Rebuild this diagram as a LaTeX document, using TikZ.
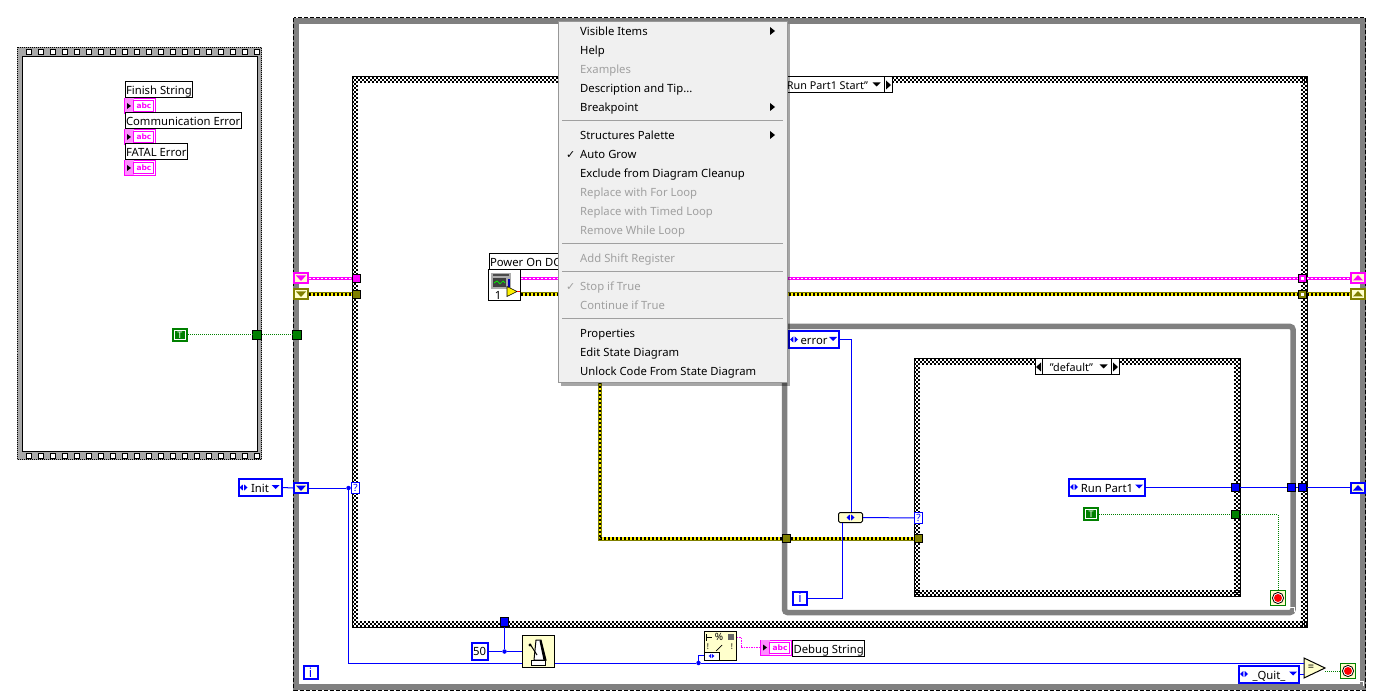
\documentclass[tikz,border=0pt]{standalone}
\usepackage{fontspec}
\setmainfont{Noto Sans}
\newfontfamily\checkfont{DejaVu Sans}
\definecolor{lvblue}{RGB}{0,0,255}
\definecolor{lvpink}{RGB}{255,0,255}
\definecolor{lvpale}{RGB}{255,140,255}
\definecolor{lvolive}{RGB}{128,128,0}
\definecolor{lvgreen}{RGB}{0,128,0}
\definecolor{lvcream}{RGB}{255,255,204}
\definecolor{lvband}{RGB}{128,128,128}
\definecolor{lvfilm}{RGB}{168,168,168}
\definecolor{menufill}{RGB}{240,240,240}
\definecolor{menuedge}{RGB}{151,151,151}
\definecolor{menuoff}{RGB}{160,160,160}
\tikzset{
  every node/.style={inner sep=0pt,font=\fontsize{11.3}{13}\selectfont},
  labelbox/.style={draw=black,line width=1pt,fill=white,minimum height=16pt,inner xsep=1pt,text height=10pt,text depth=0pt},
  tunnel/.style={draw=black,line width=1pt,minimum size=8.5pt},
  enumbox/.style={draw=lvblue,line width=2pt,fill=white,minimum height=17pt,text height=10pt,text depth=0pt},
  numbox/.style={draw=lvblue,line width=2pt,fill=white,minimum width=14pt,minimum height=13pt,text=lvblue,font=\fontsize{13}{14}\selectfont\bfseries},
  selbox/.style={draw=black,line width=1pt,fill=white,minimum height=16pt,text height=10pt,text depth=0pt,font=\fontsize{10.8}{13}\selectfont},
  regbox/.style={line width=2pt,fill=lvcream,minimum width=14pt,minimum height=10pt},
  truebox/.style={fill=lvgreen,minimum width=16pt,minimum height=14pt,text=white,font=\fontsize{9}{10}\selectfont\bfseries},
  stopbox/.style={draw=lvgreen,line width=1pt,fill=lvcream,minimum size=15.5pt},
  abcbox/.style={draw=lvpink,line width=1pt,fill=white,minimum width=31pt,minimum height=15pt,text=lvpink,font=\fontsize{7.5}{8}\selectfont\checkfont\bfseries},
  joint/.style={circle,fill=lvblue,minimum size=4.5pt},
  querybox/.style={draw=lvblue,line width=1pt,fill=white,minimum width=7.5pt,minimum height=11pt,text=lvblue,font=\fontsize{10}{11}\selectfont},
  bluewire/.style={draw=lvblue,line width=1pt},
  greenwire/.style={draw=lvgreen,line width=1pt,dash pattern=on 1pt off 1pt},
  pinkwire/.style={draw=lvpink,line width=3pt,postaction={draw=white,line width=1pt,dash pattern=on 2pt off 2pt}},
  olivewire/.style={draw=lvolive,line width=4pt,postaction={draw=yellow,line width=2.4pt},postaction={draw=black,line width=2.4pt,dash pattern=on 2pt off 2pt}},
  checkrow/.style={line width=2pt,dash pattern=on 2pt off 2pt},
  menuitem/.style={anchor=west,font=\fontsize{11.3}{13}\selectfont,text height=10pt,text depth=0pt},
  lrmark/.pic={\fill (-4,0) -- (-0.7,-3) -- (-0.7,3) -- cycle; \fill (4,0) -- (0.7,-3) -- (0.7,3) -- cycle;},
}
\newcommand{\tipdots}{.{}.{}.}
\newcommand{\checkerframe}[4]{%
  \foreach \inset/\phase in {1/0,3/2,5/0} {
    \draw[checkrow,dash phase=\phase pt] (#1,#2+\inset) -- (#3,#2+\inset);
    \draw[checkrow,dash phase=\phase pt] (#1,#4-\inset) -- (#3,#4-\inset);
    \draw[checkrow,dash phase=\phase pt] (#1+\inset,#2) -- (#1+\inset,#4);
    \draw[checkrow,dash phase=\phase pt] (#3-\inset,#2) -- (#3-\inset,#4);
  }
  \draw[black,line width=1pt] (#1,#2) rectangle (#3,#4);
}
\newcommand{\enumconst}[5]{%
  \node[enumbox,minimum width=#4] (#1) at (#2,#3) {#5};
  \pic[lvblue] at ([xshift=6pt]#1.west) {lrmark};
  \fill[lvblue] ([shift={(-11,-2.5)}]#1.east) -- ([shift={(-3,-2.5)}]#1.east) -- ([shift={(-7,1.5)}]#1.east) -- cycle;
}
\newcommand{\caseselector}[5]{%
  \node[selbox,minimum width=#4] (#1) at (#2,#3) {#5\kern11pt\relax};
  \draw[black,line width=1pt] ([xshift=8pt]#1.north west) -- ([xshift=8pt]#1.south west);
  \draw[black,line width=1pt] ([xshift=-8pt]#1.north east) -- ([xshift=-8pt]#1.south east);
  \fill[black] ([xshift=1.5pt]#1.west) -- ([shift={(6.5,-4.5)}]#1.west) -- ([shift={(6.5,4.5)}]#1.west) -- cycle;
  \fill[black] ([xshift=-1.5pt]#1.east) -- ([shift={(-6.5,-4.5)}]#1.east) -- ([shift={(-6.5,4.5)}]#1.east) -- cycle;
  \fill[black] ([shift={(-20,-2.5)}]#1.east) -- ([shift={(-12,-2.5)}]#1.east) -- ([shift={(-16,1.5)}]#1.east) -- cycle;
}
\newcommand{\abcvar}[3]{%
  \node[abcbox] (#1) at (#2,#3) {\kern8pt abc};
  \fill[lvpale] ([shift={(0.5,0.5)}]#1.north west) rectangle ([shift={(9.5,-0.5)}]#1.south west);
  \draw[lvpink,line width=1pt] ([shift={(9,2.5)}]#1.north west) rectangle ([shift={(-2.5,-2.5)}]#1.south east);
  \fill[black] ([shift={(3,-3)}]#1.west) -- ([shift={(7,0)}]#1.west) -- ([shift={(3,3)}]#1.west) -- cycle;
}
\newcommand{\trueconst}[3]{%
  \node[truebox] (#1) at (#2,#3) {T};
  \draw[white,line width=1pt] ([shift={(2.5,2.5)}]#1.north west) rectangle ([shift={(-2.5,-2.5)}]#1.south east);
}
\newcommand{\stopterm}[3]{%
  \node[stopbox] (#1) at (#2,#3) {};
  \filldraw[draw=black,fill=white,line width=0.8pt] (#1.center) circle (5.6pt);
  \fill[red] (#1.center) circle (4pt);
}
\newcommand{\shiftreg}[5]{%
  \node[regbox,draw=#4] (#1) at (#2,#3) {};
  \fill[#4] ([shift={(-5,{-2.5*#5})}]#1.center) -- ([shift={(5,{-2.5*#5})}]#1.center) -- ([shift={(0,{3*#5})}]#1.center) -- cycle;
}
\begin{document}
\begin{tikzpicture}[x=1pt,y=-1pt]
\useasboundingbox (0,0) rectangle (1379,700);
\fill[white] (0,0) rectangle (1379,700);

% frames
\fill[lvfilm] (17,47) rectangle (262,460);
\fill[white] (22,57) rectangle (257,451);
\draw[black,line width=1pt] (22,57) rectangle (257,451);
\draw[black,line width=0.7pt,dash pattern=on 1pt off 1pt] (17.5,47.5) rectangle (261.5,459.5);
\foreach \xpos in {26,38,...,254} {
  \draw[black,fill=white,line width=1pt] (\xpos+0.5,49.5) rectangle (\xpos+5.5,54.5);
  \draw[black,fill=white,line width=1pt] (\xpos+0.5,453.5) rectangle (\xpos+5.5,458.5);
}
\draw[lvband,line width=6pt] (296,21) rectangle (1363,687);
\draw[black,line width=1pt,dash pattern=on 4pt off 2pt] (293.5,18) rectangle (1365.5,690);
\draw[white,line width=1pt] (1359,681.5) -- (1363.5,681.5) -- (1363.5,686);
\checkerframe{352}{77}{1307}{627}
\draw[lvband,line width=5.5pt,rounded corners=3pt] (784.5,326.5) rectangle (1293,612.5);
\draw[white,line width=1pt] (1289,607.5) -- (1294,607.5) -- (1294,612);
\checkerframe{914}{359}{1240}{596}
\caseselector{mainSel}{831}{85}{122pt}{\kern4pt Run Part1 Start"}
\caseselector{innerSel}{1077}{367}{84pt}{"default"}

% left sequence
\node[labelbox,anchor=west] (finishLabel) at (124.5,89.5) {Finish String};
\abcvar{finishVar}{140}{106}
\node[labelbox,anchor=west] (commLabel) at (124.5,120.5) {Communication Error};
\abcvar{commVar}{140}{137}
\node[labelbox,anchor=west] (fatalLabel) at (124.5,151.5) {FATAL Error};
\abcvar{fatalVar}{140}{168}
\trueconst{seqTrue}{180}{335}
\node[tunnel,fill=lvgreen] (seqTun) at (257,335) {};
\node[tunnel,fill=lvgreen] (loopTun) at (297,335) {};
\draw[greenwire] (seqTrue) -- (seqTun);
\draw[greenwire] (seqTun) -- (loopTun);

% shift registers and tunnels
\shiftreg{pinkRegL}{301}{278}{lvpink}{1}
\shiftreg{oliveRegL}{301}{294}{lvolive}{1}
\shiftreg{blueRegL}{301}{488}{lvblue}{1}
\shiftreg{pinkRegR}{1358}{278}{lvpink}{-1}
\shiftreg{oliveRegR}{1358}{294}{lvolive}{-1}
\shiftreg{blueRegR}{1358}{488}{lvblue}{-1}
\node[tunnel,fill=lvpink] (pinkTunL) at (356.5,278.5) {};
\node[tunnel,fill=lvolive] (oliveTunL) at (356.5,294.5) {};
\node[tunnel,fill=lvpink] (pinkTunR) at (1302.5,278.5) {};
\node[tunnel,fill=lvolive] (oliveTunR) at (1302.5,294.5) {};
\fill[white] ([shift={(-1.5,-1.5)}]pinkTunR.center) rectangle ([shift={(1.5,1.5)}]pinkTunR.center);
\fill[white] ([shift={(-1.5,-1.5)}]oliveTunR.center) rectangle ([shift={(1.5,1.5)}]oliveTunR.center);
\draw[pinkwire] (pinkRegL.east |- pinkTunL) -- (pinkTunL.west);
\draw[olivewire] (oliveRegL.east |- oliveTunL) -- (oliveTunL.west);
\draw[pinkwire] (pinkTunR.east) -- (pinkRegR.west |- pinkTunR);
\draw[olivewire] (oliveTunR.east) -- (oliveRegR.west |- oliveTunR);

% power on node
\node[labelbox,anchor=west] (powerLabel) at (488.5,261.5) {Power On DC};
\node[draw=black,line width=1pt,fill=white,minimum width=32pt,minimum height=31pt] (powerIcon) at (504.5,285.5) {};
\fill[lightgray!90!black] (491,273) rectangle (511,289);
\fill[black!75] (493,278) rectangle (506,287);
\draw[green,line width=0.7pt] (494,283) -- (497,281) -- (500,284) -- (503,281) -- (505,283);
\fill[black!70] (493,274.5) rectangle (509,276);
\fill[lvblue!70!black] (507.5,279) rectangle (510,287);
\node (powerNum) at (498,295) {1};
\filldraw[fill=yellow,draw=black,line width=0.6pt] (507,286.5) -- (517,291.5) -- (507,296.5) -- cycle;
\draw[red,line width=0.6pt] (517,291.5) -- (520,291.5);
\draw[pinkwire] (powerIcon.east |- pinkTunR) -- (pinkTunR.west);
\draw[olivewire] (powerIcon.east |- oliveTunR) -- (oliveTunR.west);

% inner loop
\coordinate (oliveTurn) at (600,294.5);
\node[tunnel,fill=lvolive] (whileTun) at (786.5,538.5) {};
\node[tunnel,fill=lvolive] (caseTun) at (918.5,538.5) {};
\draw[olivewire] (oliveTurn) |- (whileTun.west);
\draw[olivewire] (whileTun.east) -- (caseTun.west);
\enumconst{errorConst}{814}{339.5}{50pt}{error}
\node[draw=black,line width=1pt,fill=lvcream,rounded corners=1.5pt,minimum width=24pt,minimum height=10pt] (errorCmp) at (850.5,517.5) {};
\pic[lvblue] at (errorCmp.center) {lrmark};
\node[querybox] (innerQuery) at (918.5,518) {?};
\node[numbox] (innerIdx) at (800,598) {i};
\coordinate (errorTurn) at (851,339.5);
\draw[bluewire] (errorConst.east) -- (errorTurn) -- (errorTurn |- errorCmp.north);
\draw[bluewire] (errorCmp.east) -- (innerQuery.west);
\coordinate (idxTurn) at (842.5,598);
\draw[bluewire] (innerIdx.east) -- (idxTurn) -- (idxTurn |- errorCmp.south);
\enumconst{runConst}{1107}{487}{76pt}{Run Part1}
\node[tunnel,fill=lvblue] (runTunA) at (1235.5,487.5) {};
\node[tunnel,fill=lvblue] (runTunB) at (1291.5,487.5) {};
\node[tunnel,fill=lvblue] (runTunC) at (1302.5,487.5) {};
\draw[bluewire] (runConst.east |- runTunA) -- (runTunA.west);
\draw[bluewire] (runTunA.east) -- (runTunB.west);
\draw[bluewire] (runTunB.east) -- (runTunC.west);
\draw[bluewire] (runTunC.east) -- (blueRegR.west |- runTunC);
\trueconst{innerTrue}{1091}{514}
\node[tunnel,fill=lvgreen] (innerTun) at (1235.5,514.5) {};
\stopterm{innerStop}{1278}{598}
\draw[greenwire] (innerTrue.east |- innerTun) -- (innerTun.west);
\draw[greenwire] (innerTun.east) -| (innerStop.north);

% state selector and bottom row
\enumconst{initConst}{260}{487.5}{43pt}{Init}
\node[querybox] (mainQuery) at (355.5,488) {?};
\node[joint] (initDot) at (348.5,488) {};
\draw[bluewire] (initConst.east) -- (blueRegL.west);
\draw[bluewire] (blueRegL.east) -- (initDot);
\draw[bluewire] (initDot) -- (mainQuery.west);
\node[numbox] (mainIdx) at (310.5,672.5) {i};
\node[draw=lvblue,line width=2pt,fill=white,minimum width=16pt,minimum height=17pt] (waitConst) at (479.5,651.5) {50};
\node[tunnel,fill=lvblue] (waitTun) at (504.5,622) {};
\node[joint] (waitDot) at (504.5,651.5) {};
\node[draw=black,line width=1pt,fill=lvcream,minimum width=32pt,minimum height=32pt] (waitIcon) at (538,651) {};
\filldraw[fill=white,draw=black,line width=1pt] (534,660) -- (536,640) -- (541,640) -- (546,660) -- cycle;
\fill[black] (541,640) -- (546,660) -- (543.5,660) -- (539.5,641) -- cycle;
\draw[black,line width=1pt] (537,655) -- (530,644);
\fill[black] (530,645) circle (1.7pt);
\draw[black,fill=white,line width=0.7pt] (531,660) rectangle (545,665);
\draw[bluewire] (waitConst.east) -- (waitDot);
\draw[bluewire] (waitDot) -- (waitTun.south);
\draw[bluewire] (waitDot) -- (waitIcon.west |- waitDot);
\node[draw=black,line width=1pt,fill=lvcream,minimum width=32pt,minimum height=29pt] (fmtIcon) at (720,645.5) {};
\node[font=\fontsize{10}{11}\selectfont] (fmtPct) at (719,637) {\%};
\node[font=\fontsize{8}{9}\selectfont\bfseries] (fmtBangL) at (708,647) {!};
\node[font=\fontsize{8}{9}\selectfont\bfseries] (fmtBangR) at (732,647) {!};
\fill[black] (705.5,634) rectangle (707,641);
\draw[black,line width=0.7pt] (707,637.5) -- (712,637.5);
\fill[black!60] (728,633.5) rectangle (734,639.5);
\draw[black,line width=0.7pt] (716,651) -- (722,645);
\draw[black,line width=1pt,fill=white] (704,652) rectangle (719,660);
\pic[lvblue,scale=0.7] at (711.5,656) {lrmark};
\node[joint] (fmtDot) at (698.5,663) {};
\draw[bluewire] (fmtDot) |- (fmtIcon.west |- 0,655);
\abcvar{debugVar}{776}{647.5}
\node[labelbox,anchor=west] (debugLabel) at (792,648) {Debug String};
\draw[lvpink,line width=1pt,dash pattern=on 1.5pt off 1pt] (fmtIcon.east |- 0,637) -- (741,637) -- (741,647.5) -- (debugVar.west);
\enumconst{quitConst}{1269}{674}{60pt}{\_Quit\_}
\draw[black,fill=lvcream,line width=1pt] (1304,658) -- (1325,668) -- (1304,678) -- cycle;
\node[minimum width=14pt,minimum height=12pt,font=\fontsize{11}{12}\selectfont\bfseries] (eqGate) at (1311,668) {=};
\stopterm{mainStop}{1348}{671}
\draw[greenwire] (1325,671) -- (mainStop.west);
\draw[bluewire] (initDot) |- (waitIcon.west |- fmtDot);
\draw[bluewire] (waitIcon.east |- fmtDot) -- (fmtDot);
\draw[bluewire] (fmtDot) -- (eqGate.west |- fmtDot);
\draw[bluewire] (quitConst.east |- 0,674) -- (eqGate.west |- 0,674);

% menu
\fill[black,opacity=0.35] (561,24) rectangle (790,386);
\filldraw[fill=menufill,draw=menuedge,line width=1pt] (558.5,21.5) rectangle (787,383);
\foreach \ypos/\itemtext in {31/Visible Items,50/Help,88/Description and Tip\tipdots,107/Breakpoint,135/Structures Palette,154/Auto Grow,173/Exclude from Diagram Cleanup,333/Properties,352/Edit State Diagram,371/Unlock Code From State Diagram}
  \node[menuitem] (item\ypos) at (580,\ypos) {\itemtext};
\foreach \ypos/\itemtext in {69/Examples,192/Replace with For Loop,211/Replace with Timed Loop,230/Remove While Loop,258/Add Shift Register,286/Stop if True,305/Continue if True}
  \node[menuitem,text=menuoff] (item\ypos) at (580,\ypos) {\itemtext};
\foreach \ypos in {121,244,272,319}
  \draw[menuoff,line width=1pt] (562,\ypos) -- (783,\ypos);
\foreach \ypos in {31,107,135}
  \fill[black] (770,\ypos-4) -- (775,\ypos) -- (770,\ypos+4) -- cycle;
\node[menuitem,font=\fontsize{11}{12}\selectfont\checkfont] (markOn) at (566,154) {✓};
\node[menuitem,text=menuoff,font=\fontsize{11}{12}\selectfont\checkfont] (markOff) at (566,286) {✓};
\end{tikzpicture}
\end{document}
